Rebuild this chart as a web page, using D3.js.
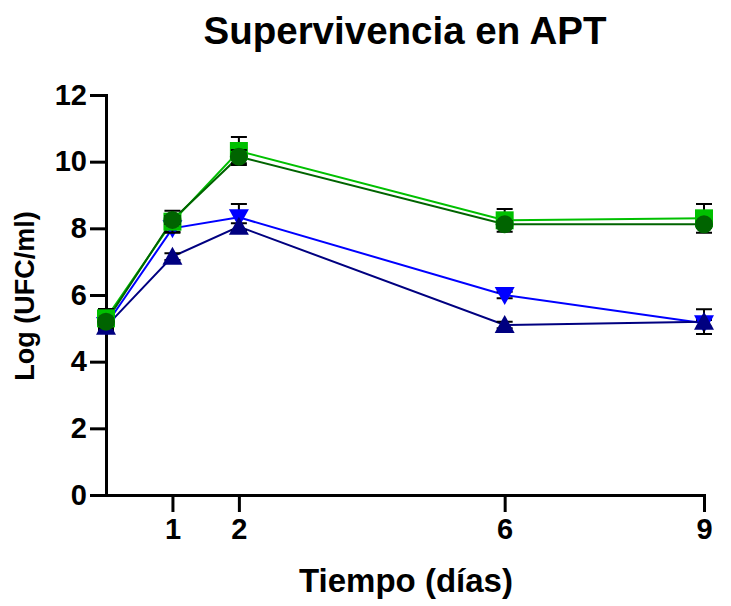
<!DOCTYPE html>
<html>
<head>
<meta charset="utf-8">
<script src="https://cdn.jsdelivr.net/npm/d3@7"></script>
<style>
  body { margin: 0; background: #fff; }
  text { font-family: "Liberation Sans", Arial, sans-serif; font-weight: bold; }
</style>
</head>
<body>
<div id="chart"></div>
<script>
const width = 731;
const height = 606;

// Data
const days = [0, 1, 2, 6, 9];
const xTicks = [1, 2, 6, 9];
const yTicks = [0, 2, 4, 6, 8, 10, 12];

const blueMean = [5.1, 8.0, 8.33, 6.0, 5.15];
const blueSd = [0.1, 0.1, 0.4, 0.1, 0.1];
const navyMean = [5.05, 7.15, 8.05, 5.1, 5.2];
const navySd = [0.1, 0.1, 0.1, 0.1, 0.37];
const lightMean = [5.3, 8.2, 10.32, 8.24, 8.3];
const lightSd = [0.28, 0.33, 0.42, 0.34, 0.43];
const darkMean = [5.2, 8.25, 10.15, 8.12, 8.12];
const darkSd = [0.1, 0.12, 0.2, 0.1, 0.1];

const series = [
    { name: "blue", color: "#0000ff", shape: "down", mean: blueMean, sd: blueSd },
    { name: "navy", color: "#000080", shape: "up", mean: navyMean, sd: navySd },
    { name: "light", color: "#00c000", shape: "square", mean: lightMean, sd: lightSd },
    { name: "dark", color: "#006400", shape: "circle", mean: darkMean, sd: darkSd }
];

const svg = d3.select("#chart")
    .append("svg")
    .attr("width", width)
    .attr("height", height);

const x = d3.scaleLinear().domain([0, 9]).range([106, 704]);
const y = d3.scaleLinear().domain([0, 12]).range([495, 95]);

// Axes
const yAxis = svg.append("g")
    .attr("transform", "translate(106,0)")
    .call(d3.axisLeft(y).tickValues(yTicks).tickSize(16).tickPadding(3).tickSizeOuter(0));

const xAxis = svg.append("g")
    .attr("transform", "translate(0,495)")
    .call(d3.axisBottom(x).tickValues(xTicks).tickSize(17).tickPadding(6).tickSizeOuter(0));

[xAxis, yAxis].forEach(a => {
    a.select(".domain").attr("stroke", "#000").attr("stroke-width", 3).attr("stroke-linecap", "square");
    a.selectAll(".tick line").attr("stroke", "#000").attr("stroke-width", 3);
    a.selectAll(".tick text")
        .attr("fill", "#000")
        .style("font-size", "29px")
        .style("font-family", "'Liberation Sans', Arial, sans-serif")
        .style("font-weight", "bold");
});

// Lines
const line = d3.line()
    .x((d, i) => x(days[i]))
    .y(d => y(d));

const g = svg.append("g");

series.forEach(s => {
    g.append("path")
        .datum(s.mean)
        .attr("d", line)
        .attr("fill", "none")
        .attr("stroke", s.color)
        .attr("stroke-width", 2);
});

// Error bars and markers
function markerPath(shape) {
    if (shape === "square") return "M-9,-9H9V9H-9Z";
    if (shape === "up") return "M0,-10L10,8H-10Z";
    if (shape === "down") return "M0,10L10,-8H-10Z";
    return null;
}

series.forEach(s => {
    const grp = g.append("g");
    s.mean.forEach((m, i) => {
        const cx = x(days[i]);
        const top = y(m + s.sd[i]);
        const bot = y(m - s.sd[i]);
        grp.append("path")
            .attr("d", `M${cx},${top}V${bot}M${cx - 8},${top}H${cx + 8}M${cx - 8},${bot}H${cx + 8}`)
            .attr("stroke", "#000")
            .attr("stroke-width", 2)
            .attr("fill", "none");
    });
    s.mean.forEach((m, i) => {
        const cx = x(days[i]);
        const cy = y(m);
        if (s.shape === "circle") {
            grp.append("circle").attr("cx", cx).attr("cy", cy).attr("r", 9).attr("fill", s.color);
        } else {
            grp.append("path")
                .attr("transform", `translate(${cx},${cy})`)
                .attr("d", markerPath(s.shape))
                .attr("fill", s.color);
        }
    });
});

// Titles
svg.append("text")
    .attr("x", 405)
    .attr("y", 44)
    .attr("text-anchor", "middle")
    .style("font-size", "38.5px")
    .text("Supervivencia en APT");

svg.append("text")
    .attr("x", 406)
    .attr("y", 592)
    .attr("text-anchor", "middle")
    .style("font-size", "33px")
    .text("Tiempo (días)");

svg.append("text")
    .attr("transform", "translate(34,296) rotate(-90)")
    .attr("text-anchor", "middle")
    .style("font-size", "27px")
    .text("Log (UFC/ml)");
</script>
</body>
</html>
